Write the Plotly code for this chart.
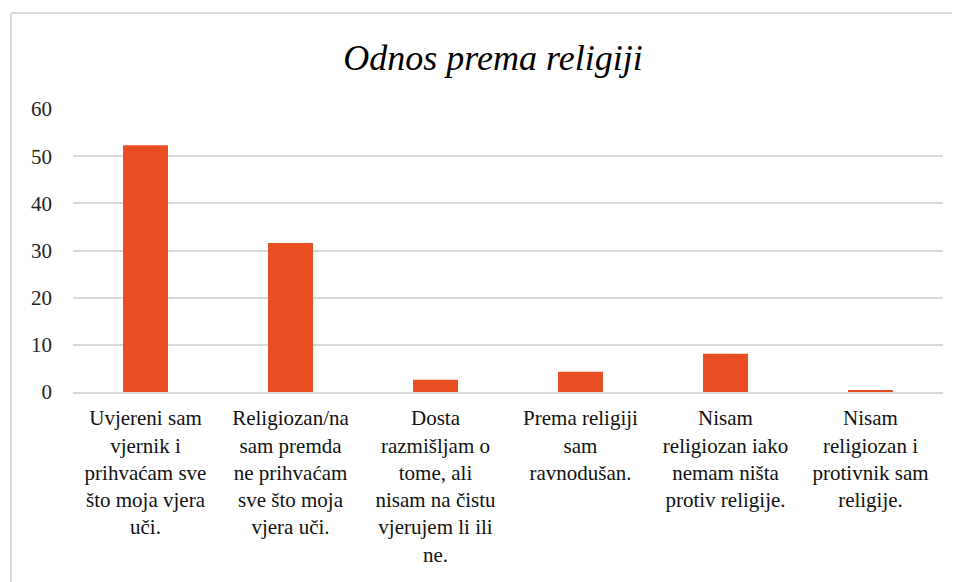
import plotly.graph_objects as go

categories = [
    "Uvjereni sam<br>vjernik i<br>prihvaćam sve<br>što moja vjera<br>uči.",
    "Religiozan/na<br>sam premda<br>ne prihvaćam<br>sve što moja<br>vjera uči.",
    "Dosta<br>razmišljam o<br>tome, ali<br>nisam na čistu<br>vjerujem li ili<br>ne.",
    "Prema religiji<br>sam<br>ravnodušan.",
    "Nisam<br>religiozan iako<br>nemam ništa<br>protiv religije.",
    "Nisam<br>religiozan i<br>protivnik sam<br>religije.",
]
values = [52.3, 31.6, 2.6, 4.3, 8.1, 0.4]
y_ticks = [0, 10, 20, 30, 40, 50, 60]

BAR = "#E84E22"
GRID = "#D9D9D9"
FONT = "Liberation Serif, Times New Roman, serif"

# page body has an 8px offset; compensate in margins
L, T, PW, PH = 65, 101, 870, 283

fig = go.Figure(
    go.Bar(x=categories, y=values, marker=dict(color=BAR, line=dict(width=0)),
           hoverinfo="x+y")
)

fig.update_layout(
    width=960, height=582,
    margin=dict(l=L, r=960 - L - PW, t=T, b=582 - T - PH, autoexpand=False),
    paper_bgcolor="white", plot_bgcolor="white",
    bargap=0.69,
    showlegend=False,
    title=dict(text="<i>Odnos prema religiji</i>", x=(493 - 8) / 960, xanchor="center",
               y=1 - (57 - 8) / 582, yanchor="middle",
               font=dict(family=FONT, size=36, color="#000000")),
    font=dict(family=FONT, color="#000000"),
    shapes=[
        dict(type="line", xref="paper", yref="paper",
             x0=-62 / PW, x1=-62 / PW, y0=-200 / PH, y1=1 + 96 / PH,
             line=dict(color=GRID, width=2)),
        dict(type="line", xref="paper", yref="paper",
             x0=-62 / PW, x1=1 + 40 / PW, y0=1 + 96 / PH, y1=1 + 96 / PH,
             line=dict(color=GRID, width=2)),
    ],
)

fig.update_yaxes(
    range=[0, 60], tickvals=y_ticks, ticktext=[str(v) for v in y_ticks],
    showgrid=True, gridcolor=GRID, gridwidth=2,
    zeroline=False, showline=False,
    ticks="", ticklabelstandoff=20,
    tickfont=dict(family=FONT, size=21, color="#222222"),
)
fig.update_xaxes(
    showgrid=False, showline=True, linecolor=GRID, linewidth=2,
    ticks="", ticklabelstandoff=6,
    tickfont=dict(family=FONT, size=21, color="#111111"),
    tickangle=0,
)

fig.write_html("out.html")
